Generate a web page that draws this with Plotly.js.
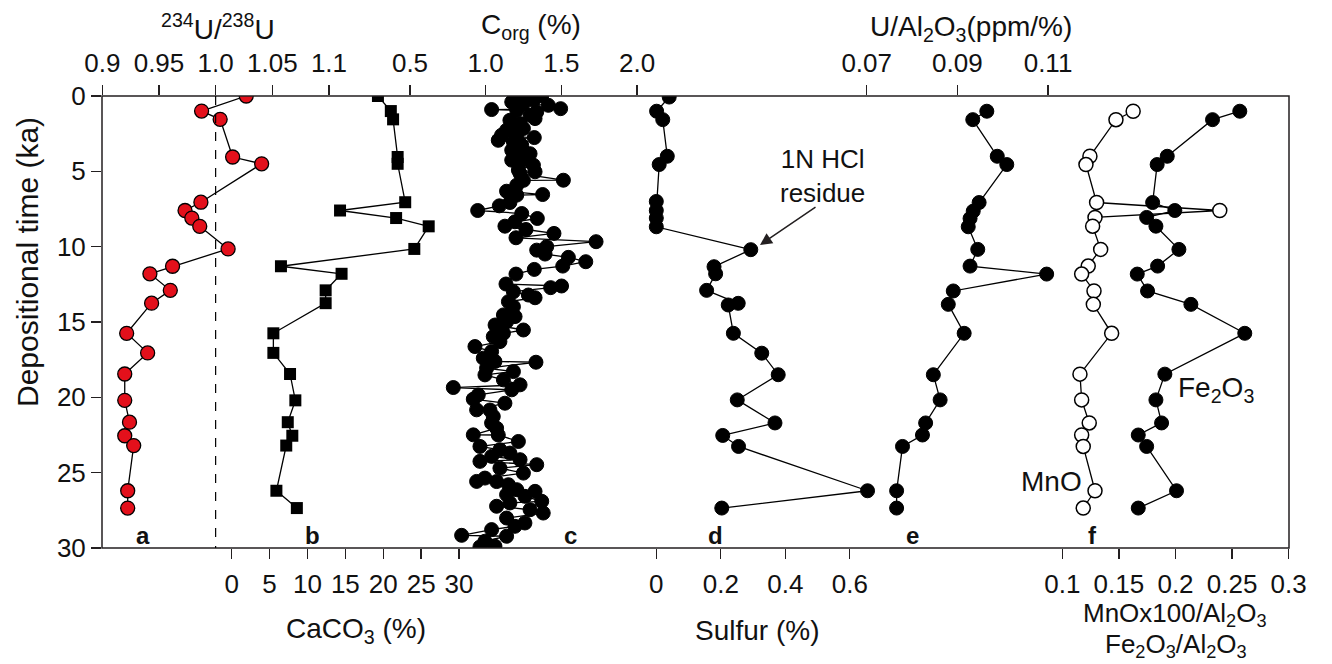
<!DOCTYPE html>
<html><head><meta charset="utf-8">
<script src="https://cdn.plot.ly/plotly-3.0.1.min.js"></script>
<style>body{margin:0;background:#fff}#g{width:1332px;height:664px}</style>
</head><body><div id="g"></div>
<script>
// ---- data ----
const abAge = [0,1.0,1.55,4.05,4.5,7.05,7.6,8.1,8.65,10.15,11.3,11.8,12.9,13.75,15.75,17.05,18.45,20.2,21.65,22.55,23.2,26.2,27.35];
const uRatio = [1.027,0.9876,1.004,1.015,1.0406,0.987,0.973,0.979,0.986,1.011,0.962,0.942,0.960,0.9435,0.9215,0.940,0.9198,0.9198,0.924,0.9198,0.9277,0.9224,0.9224];
const caco3 = [19.3,21.0,21.3,21.9,21.9,22.9,14.3,21.7,26.0,24.1,6.5,14.5,12.4,12.4,5.5,5.5,7.7,8.4,7.4,8.0,7.2,5.9,8.6];

const corgAge = [0,0.06,0.13,0.29,0.4,0.51,0.62,0.84,0.9,0.95,1.06,1.28,1.5,1.61,1.83,2.05,2.16,2.27,2.6,2.71,2.76,2.94,3.05,3.27,3.6,3.82,3.83,4.26,4.27,4.59,4.92,5.03,5.15,5.59,5.6,5.92,6.32,6.54,6.58,7.07,7.29,7.6,7.8,8.13,8.35,8.64,8.86,9.12,9.41,9.67,10.0,10.23,10.49,10.71,11.0,11.29,11.51,11.82,12.48,12.61,12.72,12.99,13.21,13.39,13.65,13.98,14.31,14.53,14.64,14.75,14.98,15.2,15.53,15.75,15.97,16.3,16.63,16.96,17.4,17.62,17.67,18.07,18.29,18.51,18.84,19.17,19.35,19.5,19.84,20.12,20.39,20.83,20.84,21.27,21.71,22.05,22.49,22.5,22.93,23.26,23.48,23.7,23.92,24.14,24.25,24.47,24.7,25.03,25.36,25.58,25.59,25.8,26.13,26.24,26.46,26.57,26.9,27.01,27.23,27.46,27.68,28.01,28.34,28.56,28.78,29.16,29.22,29.55,29.88,29.93];
const corg = [1.37,1.205,1.26,1.315,1.172,1.249,1.414,1.495,1.039,1.205,1.337,1.293,1.326,1.16,1.227,1.193,1.249,1.138,1.105,1.205,1.321,1.083,1.183,1.238,1.172,1.227,1.293,1.172,1.249,1.315,1.216,1.326,1.227,1.513,1.249,1.205,1.138,1.376,1.205,1.16,1.09,0.947,1.238,1.341,1.193,1.127,1.266,1.451,1.2,1.729,1.403,1.337,1.392,1.546,1.661,1.509,1.321,1.2,1.134,1.501,1.429,1.183,1.282,1.326,1.15,1.183,1.172,1.117,1.194,1.138,1.138,1.062,1.249,1.117,1.05,1.094,0.929,1.039,0.984,1.061,1.332,1.006,1.183,0.995,1.117,1.227,0.786,1.172,0.951,0.918,1.127,0.94,1.028,1.05,1.039,1.072,0.918,1.083,1.216,0.962,1.094,1.16,1.039,1.227,0.962,1.337,1.094,1.249,0.995,0.94,1.072,1.15,1.205,1.326,1.138,1.259,1.37,1.16,1.072,1.293,1.38,1.138,1.259,1.193,1.039,0.841,1.138,0.995,1.061,0.962];

const sAge = [0.07,1.01,1.57,4.0,4.55,7.0,7.6,8.1,8.68,10.2,11.33,11.8,12.9,13.76,13.87,15.75,17.07,18.5,20.17,21.7,22.53,23.26,26.2,27.35];
const sulfur = [0.040,0.001,0.02,0.034,0.009,0,0,0,0,0.293,0.179,0.184,0.156,0.254,0.223,0.239,0.327,0.378,0.251,0.368,0.206,0.255,0.655,0.203];

const eAge = [1.01,1.57,4.0,4.55,7.07,7.64,8.13,8.68,10.18,11.29,11.82,12.94,13.83,15.75,18.5,20.17,21.7,22.5,23.26,26.2,27.35];
const uAl = [0.0965,0.0934,0.0988,0.1009,0.0948,0.0935,0.0928,0.0924,0.0945,0.0928,0.1097,0.0891,0.0880,0.0915,0.0847,0.0862,0.0830,0.0823,0.0779,0.0766,0.0766];

const fAge = [1.01,1.57,4.0,4.55,7.07,7.6,8.06,8.64,10.18,11.29,11.82,12.94,13.83,15.75,18.46,20.17,21.7,22.5,23.26,26.2,27.35];
const mnAl = [0.1626,0.1474,0.1244,0.1209,0.1303,0.2391,0.1289,0.1268,0.1339,0.1229,0.1171,0.128,0.1274,0.1436,0.1156,0.1171,0.1238,0.1171,0.1185,0.1289,0.1185];
const feAl = [0.2568,0.2327,0.1927,0.1838,0.1798,0.1994,0.1745,0.1827,0.203,0.1842,0.1662,0.1753,0.2136,0.2612,0.1906,0.1827,0.1877,0.1671,0.1745,0.2009,0.1671];

const ticksA = [0.9,0.95,1.0,1.05,1.1], labA = ['0.9','0.95','1.0','1.05','1.1'];
const ticksB = [0,5,10,15,20,25,30];
const ticksC = [0.5,1.0,1.5,2.0], labC = ['0.5','1.0','1.5','2.0'];
const ticksD = [0,0.2,0.4,0.6], labD = ['0','0.2','0.4','0.6'];
const ticksE = [0.07,0.09,0.11], labE = ['0.07','0.09','0.11'];
const ticksF = [0.1,0.15,0.2,0.25,0.3], labF = ['0.1','0.15','0.2','0.25','0.3'];
const ageTicks = [0,5,10,15,20,25,30];

// ---- layout helpers ----
const W = 1332, H = 664, L = 102, R = 1289, T = 96, B = 548;
const FONT = 'Liberation Sans, Arial, sans-serif';
const TICKSIZE = 26, TITLESIZE = 28;
function rng(v0, px0, s){ return [v0 + (L-px0)/s, v0 + (R-px0)/s]; }
function px(x){ return (x - L)/(R - L); }
function py(y){ return (B - y)/(B - T); }

const lineS = {color:'#000', width:1.3};
const dot = {size:14, color:'#000', line:{color:'#000', width:1}};
const traces = [
  {x:uRatio, y:abAge, xaxis:'x', yaxis:'y', mode:'lines+markers', line:lineS,
   marker:{size:14, color:'#e3101b', line:{color:'#000', width:1.3}}},
  {x:caco3, y:abAge, xaxis:'x2', yaxis:'y', mode:'lines+markers', line:lineS,
   marker:{symbol:'square', size:12, color:'#000'}},
  {x:corg, y:corgAge, xaxis:'x3', yaxis:'y', mode:'lines+markers', line:lineS, marker:dot},
  {x:sulfur, y:sAge, xaxis:'x4', yaxis:'y', mode:'lines+markers', line:lineS, marker:dot},
  {x:uAl, y:eAge, xaxis:'x5', yaxis:'y', mode:'lines+markers', line:lineS, marker:dot},
  {x:mnAl, y:fAge, xaxis:'x6', yaxis:'y', mode:'lines+markers', line:lineS,
   marker:{size:14, color:'#fff', line:{color:'#000', width:1.5}}},
  {x:feAl, y:fAge, xaxis:'x6', yaxis:'y', mode:'lines+markers', line:lineS, marker:dot}
];

function xax(side, range, tv, tt, over){
  const o = {domain:[0,1], range:range, side:side, anchor:'y', tickmode:'array', tickvals:tv,
    ticktext:tt || tv.map(String), ticks:'outside', ticklen:10, tickwidth:1.3, tickcolor:'#231f20',
    showgrid:false, zeroline:false, showline:false,
    tickfont:{family:FONT, size:TICKSIZE, color:'#111'}, ticklabelstandoff:3};
  if (over) o.overlaying = 'x';
  return o;
}

const ann = (text, x, y, opts) => Object.assign({text:text, xref:'paper', yref:'paper', x:px(x), y:py(y),
  showarrow:false, xanchor:'center', yanchor:'middle', font:{family:FONT, size:TITLESIZE, color:'#111'}}, opts||{});
const letter = (t, x) => ann('<b>'+t+'</b>', x, 535, {font:{family:FONT, size:24, color:'#111'}});
const small = {font:{family:FONT, size:26, color:'#111'}};

const layout = {
  width:W, height:H, margin:{l:L, r:W-R, t:T, b:H-B}, showlegend:false,
  paper_bgcolor:'#fff', plot_bgcolor:'#fff',
  xaxis: xax('top', rng(0.9,102.3,1133.3), ticksA, labA, false),
  xaxis2: xax('bottom', rng(0,231.7,7.577), ticksB, null, true),
  xaxis3: xax('top', rng(1.0,485.7,151.4), ticksC, labC, true),
  xaxis4: xax('bottom', rng(0,656.3,322.5), ticksD, labD, true),
  xaxis5: xax('top', rng(0.07,866.7,4533), ticksE, labE, true),
  xaxis6: xax('bottom', rng(0.1,1062.3,1132), ticksF, labF, true),
  yaxis: {domain:[0,1], range:[30,0], tickmode:'array', tickvals:ageTicks, ticks:'outside', ticklen:10,
    tickwidth:1.3, tickcolor:'#231f20', showgrid:false, zeroline:false, showline:false,
    tickfont:{family:FONT, size:TICKSIZE, color:'#111'}},
  shapes: [
    {type:'rect', xref:'paper', yref:'paper', x0:0, x1:1, y0:0, y1:1, line:{color:'#231f20', width:1.5}},
    {type:'line', xref:'x', yref:'y', x0:1.0, x1:1.0, y0:0, y1:30, line:{color:'#000', width:1.2, dash:'dash'}}
  ],
  annotations: [
    ann('<sup>234</sup>U/<sup>238</sup>U', 218, 27),
    ann('C<sub>org</sub> (%)', 531, 27),
    ann('U/Al<sub>2</sub>O<sub>3</sub>(ppm/%)', 971, 28),
    ann('CaCO<sub>3</sub> (%)', 356, 630),
    ann('Sulfur (%)', 757, 630),
    ann('MnOx100/Al<sub>2</sub>O<sub>3</sub>', 1175, 614, small),
    ann('Fe<sub>2</sub>O<sub>3</sub>/Al<sub>2</sub>O<sub>3</sub>', 1176, 645, small),
    ann('Depositional time (ka)', 27, 262, {textangle:-90, font:{family:FONT, size:30, color:'#111'}}),
    ann('1N HCl<br>residue', 822, 176, small),
    ann('MnO', 1051, 481),
    ann('Fe<sub>2</sub>O<sub>3</sub>', 1216, 389),
    letter('a', 143), letter('b', 312), letter('c', 570), letter('d', 716), letter('e', 912), letter('f', 1092),
    {x:px(760), y:py(245), xref:'paper', yref:'paper', ax:px(817), ay:py(206), axref:'paper', ayref:'paper',
     showarrow:true, arrowhead:2, arrowsize:1.6, arrowwidth:1.5, arrowcolor:'#231f20', text:''}
  ]
};

Plotly.newPlot('g', traces, layout, {displayModeBar:false, staticPlot:true});
</script></body></html>
